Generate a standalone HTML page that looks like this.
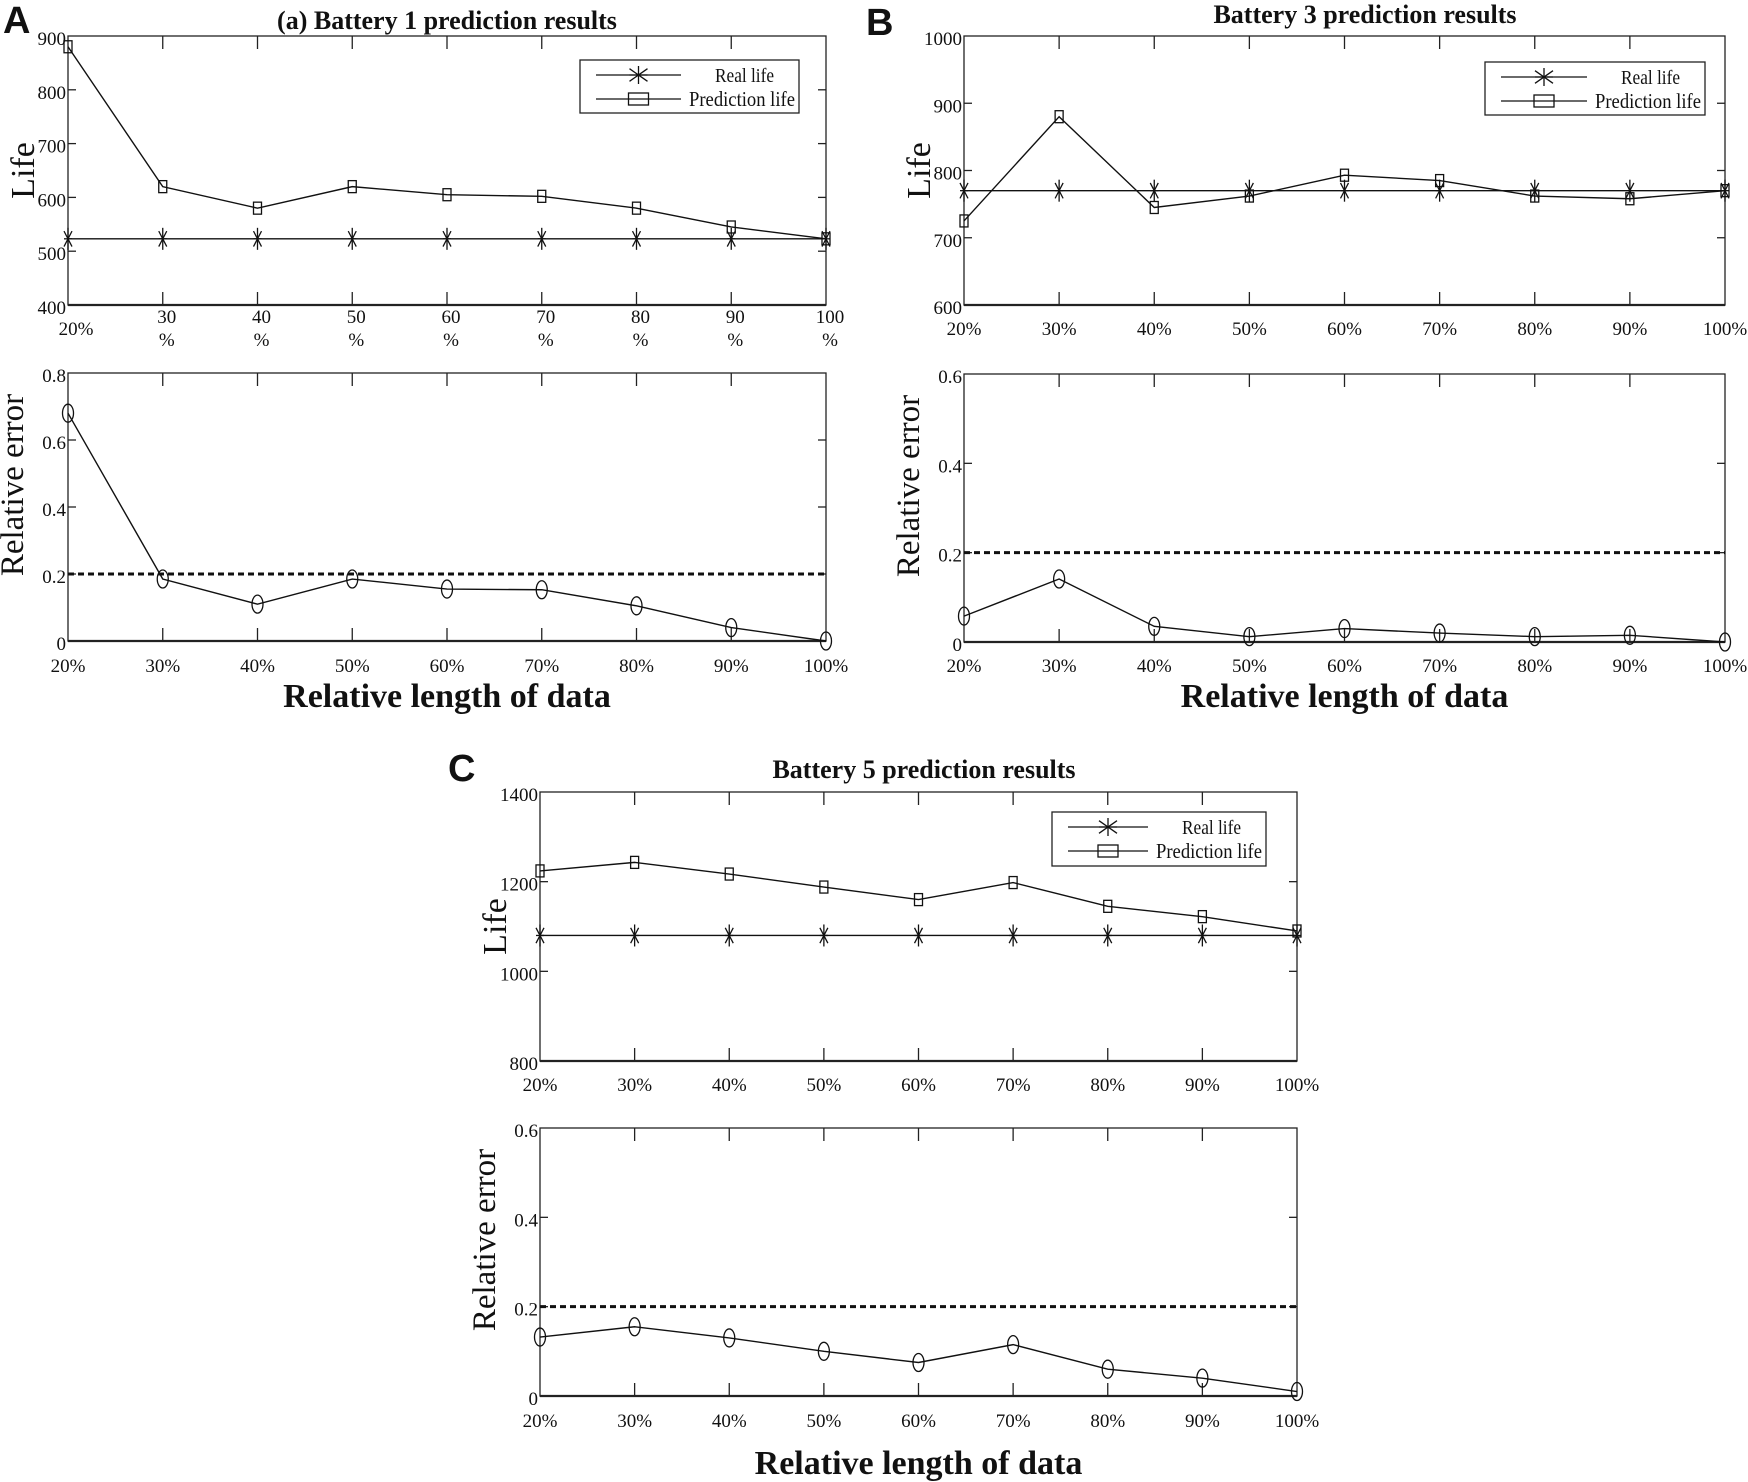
<!DOCTYPE html>
<html><head><meta charset="utf-8">
<style>
html,body{margin:0;padding:0;background:#fff;}
svg{display:block;}
text{font-family:"Liberation Serif",serif;fill:#111;}
.lab{font-family:"Liberation Sans",sans-serif;font-weight:bold;}
</style></head>
<body>
<svg id="chart" xmlns="http://www.w3.org/2000/svg" width="1748" height="1482" viewBox="0 0 1748 1482">
<rect width="1748" height="1482" fill="#fff"/>
</svg>
<script>
const categories = ["20%","30%","40%","50%","60%","70%","80%","90%","100%"];
const categoriesA = [["20%"],["30","%"],["40","%"],["50","%"],["60","%"],["70","%"],["80","%"],["90","%"],["100","%"]];
const realA = [523,523,523,523,523,523,523,523,523];
const predA = [880,620,580,620,605,602,580,545,523];
const errA = [0.68,0.185,0.11,0.185,0.155,0.153,0.105,0.04,0.0];
const realB = [770,770,770,770,770,770,770,770,770];
const predB = [725,880,745,762,793,785,762,758,770];
const errB = [0.058,0.141,0.035,0.012,0.03,0.02,0.012,0.015,0.0];
const realC = [1080,1080,1080,1080,1080,1080,1080,1080,1080];
const predC = [1224,1243,1217,1188,1160,1198,1145,1122,1090];
const errC = [0.132,0.155,0.13,0.1,0.075,0.115,0.06,0.04,0.01];
const lifeTicksA = [400,500,600,700,800,900];
const lifeTicksB = [600,700,800,900,1000];
const lifeTicksC = [800,1000,1200,1400];
const errTicksA = [0,0.2,0.4,0.6,0.8];
const errTicksBC = [0,0.2,0.4,0.6];
const threshold = [0.2];

const svg = document.getElementById('chart');
const NS = 'http://www.w3.org/2000/svg';
function mk(tag, attrs, parent){
  const e = document.createElementNS(NS, tag);
  for (const k in attrs) e.setAttribute(k, attrs[k]);
  (parent||svg).appendChild(e);
  return e;
}
function txt(str, x, y, size, anchor, parent, extra){
  const t = mk('text', {x:x, y:y, 'font-size':size, 'text-anchor':anchor||'start'}, parent);
  if (extra) for (const k in extra) t.setAttribute(k, extra[k]);
  t.textContent = str;
  return t;
}
function fmt(v){ return (Math.abs(v)<1e-9)?'0':String(v); }

function axes(g, L, R, T, B, ymin, ymax, yticks, xlabels, tickY, twoLine){
  const n = xlabels.length;
  const xs = i => L + (R-L)*i/(n-1);
  const ys = v => B - (v-ymin)/(ymax-ymin)*(B-T);
  const frame = mk('rect', {x:L, y:T, width:R-L, height:B-T, fill:'none', stroke:'#222', 'stroke-width':1.3}, g);
  
  
  const bottom = mk('line', {x1:L, y1:B, x2:R, y2:B, stroke:'#222', 'stroke-width':2.2}, g);
  
  
  for (let i=1;i<n-1;i++){
    mk('line',{x1:xs(i),y1:T,x2:xs(i),y2:T+13,stroke:'#222','stroke-width':1.3},g);
    mk('line',{x1:xs(i),y1:B,x2:xs(i),y2:B-13,stroke:'#222','stroke-width':1.3},g);
  }
  yticks.forEach(v=>{
    const y = ys(v);
    if (v!==ymin && v!==ymax){
      mk('line',{x1:L,y1:y,x2:L+8,y2:y,stroke:'#222','stroke-width':1.3},g);
      mk('line',{x1:R,y1:y,x2:R-8,y2:y,stroke:'#222','stroke-width':1.3},g);
    }
    const t = txt(fmt(v), L-2, y+9, 19, 'end', g);
    
    
  });
  xlabels.forEach((lab,i)=>{
    if (twoLine){
      if (lab.length===1){
        const t = txt(lab[0], xs(i)+8, tickY+12, 19, 'middle', g);
        
        
      } else {
        const t = txt(lab[0], xs(i)+4, tickY, 19, 'middle', g);
        
        
        const t2 = txt(lab[1], xs(i)+4, tickY+23, 19, 'middle', g);
        
        
      }
    } else {
      const t = txt(lab, xs(i), tickY, 19, 'middle', g);
      
      
    }
  });
  return {xs, ys};
}

function polyline(g, pts, name, dash, w){
  const p = mk('polyline', {points:pts.map(p=>p.join(',')).join(' '), fill:'none', stroke:'#111', 'stroke-width':w||1.4}, g);
  if (dash) p.setAttribute('stroke-dasharray', dash);
  
  
  return p;
}
function star(g, x, y, sx, sy){
  const s = mk('g', {}, g);
  
  
  mk('line',{x1:x,y1:y-sy,x2:x,y2:y+sy,stroke:'#111','stroke-width':1.3},s);
  mk('line',{x1:x-sx,y1:y-sy*0.7,x2:x+sx,y2:y+sy*0.7,stroke:'#111','stroke-width':1.3},s);
  mk('line',{x1:x-sx,y1:y+sy*0.7,x2:x+sx,y2:y-sy*0.7,stroke:'#111','stroke-width':1.3},s);
  mk('line',{x1:x-sx,y1:y,x2:x+sx,y2:y,stroke:'#111','stroke-width':1.3},s);
}
function square(g, x, y, w, h){
  const r = mk('rect',{x:x-w/2,y:y-h/2,width:w,height:h,fill:'none',stroke:'#111','stroke-width':1.3},g);
  
  
}
function legend(g, x1, y1, x2, y2){
  const lg = mk('g', {}, g);
  
  
  mk('rect',{x:x1,y:y1,width:x2-x1,height:y2-y1,fill:'#fff',stroke:'#222','stroke-width':1.3},lg);
  const ya = y1+15, yb = y1+39;
  const lx1 = x1+16, lx2 = x2-118, mx = (lx1+lx2)/2;
  mk('line',{x1:lx1,y1:ya,x2:lx2,y2:ya,stroke:'#111','stroke-width':1.3},lg);
  star(lg, mx, ya, 9, 9);
  const t1 = txt('Real life', x2-84, ya+7, 20, 'start', lg, {textLength:59, lengthAdjust:'spacingAndGlyphs'});
  
  
  mk('line',{x1:lx1,y1:yb,x2:lx2,y2:yb,stroke:'#111','stroke-width':1.3},lg);
  square(lg, mx, yb, 20, 12);
  const t2 = txt('Prediction life', x2-110, yb+7, 21, 'start', lg, {textLength:106, lengthAdjust:'spacingAndGlyphs'});
  
  
}

function lifePlot(name, L, R, T, B, ymin, ymax, yticks, real, pred, tickY, twoLine, xlabels, leg){
  const g = mk('g', {});  
  const ax = axes(g, L, R, T, B, ymin, ymax, yticks, xlabels, tickY, twoLine);
  polyline(g, real.map((v,i)=>[ax.xs(i), ax.ys(v)]), 'real-life-line');
  polyline(g, pred.map((v,i)=>[ax.xs(i), ax.ys(v)]), 'prediction-life-line');
  real.forEach((v,i)=>star(g, ax.xs(i), ax.ys(v), 4, 11));
  pred.forEach((v,i)=>square(g, ax.xs(i), ax.ys(v), 8, 12));
  legend(g, leg[0], leg[1], leg[2], leg[3]);
  const yl = txt('Life', 0, 0, 34, 'middle', g, {transform:`translate(${L-34},${(T+B)/2}) rotate(-90)`});
  
  
}
function errPlot(name, L, R, T, B, ymax, yticks, err, tickY, xTitleY){
  const g = mk('g', {});  
  const ax = axes(g, L, R, T, B, 0, ymax, yticks, categories, tickY, false);
  polyline(g, [[L, ax.ys(threshold[0])],[R, ax.ys(threshold[0])]], 'threshold-line', '6,4', 3);
  polyline(g, err.map((v,i)=>[ax.xs(i), ax.ys(v)]), 'relative-error-line');
  err.forEach((v,i)=>{
    const c = mk('ellipse',{cx:ax.xs(i),cy:ax.ys(v),rx:5.5,ry:9,fill:'none',stroke:'#111','stroke-width':1.3},g);
    
    
  });
  const yl = txt('Relative error', 0, 0, 33, 'middle', g, {transform:`translate(${L-45},${(T+B)/2-22}) rotate(-90)`});
  
  
  const xl = txt('Relative length of data', (L+R)/2, xTitleY, 34, 'middle', g, {'font-weight':'bold'});
  
  
}

// Panel A
let t = txt('A', 3, 33, 38, 'start', svg, {class:'lab'});  
t = txt('(a) Battery 1 prediction results', 447, 29, 26, 'middle', svg, {'font-weight':'bold'});  
lifePlot('battery-1-life-plot', 68, 826, 36, 305, 400, 900, lifeTicksA, realA, predA, 323, true, categoriesA, [580,60,799,113]);
errPlot('battery-1-error-plot', 68, 826, 373, 641, 0.8, errTicksA, errA, 672, 707);

// Panel B
t = txt('B', 866, 35, 38, 'start', svg, {class:'lab'});  
t = txt('Battery 3 prediction results', 1365, 23, 26, 'middle', svg, {'font-weight':'bold'});  
lifePlot('battery-3-life-plot', 964, 1725, 36, 305, 600, 1000, lifeTicksB, realB, predB, 335, false, categories, [1485,62,1705,115]);
errPlot('battery-3-error-plot', 964, 1725, 374, 642, 0.6, errTicksBC, errB, 672, 707);

// Panel C
t = txt('C', 448, 781, 38, 'start', svg, {class:'lab'});  
t = txt('Battery 5 prediction results', 924, 778, 26, 'middle', svg, {'font-weight':'bold'});  
lifePlot('battery-5-life-plot', 540, 1297, 792, 1061, 800, 1400, lifeTicksC, realC, predC, 1091, false, categories, [1052,812,1266,866]);
errPlot('battery-5-error-plot', 540, 1297, 1128, 1396, 0.6, errTicksBC, errC, 1427, 1474);
</script>
</body></html>
